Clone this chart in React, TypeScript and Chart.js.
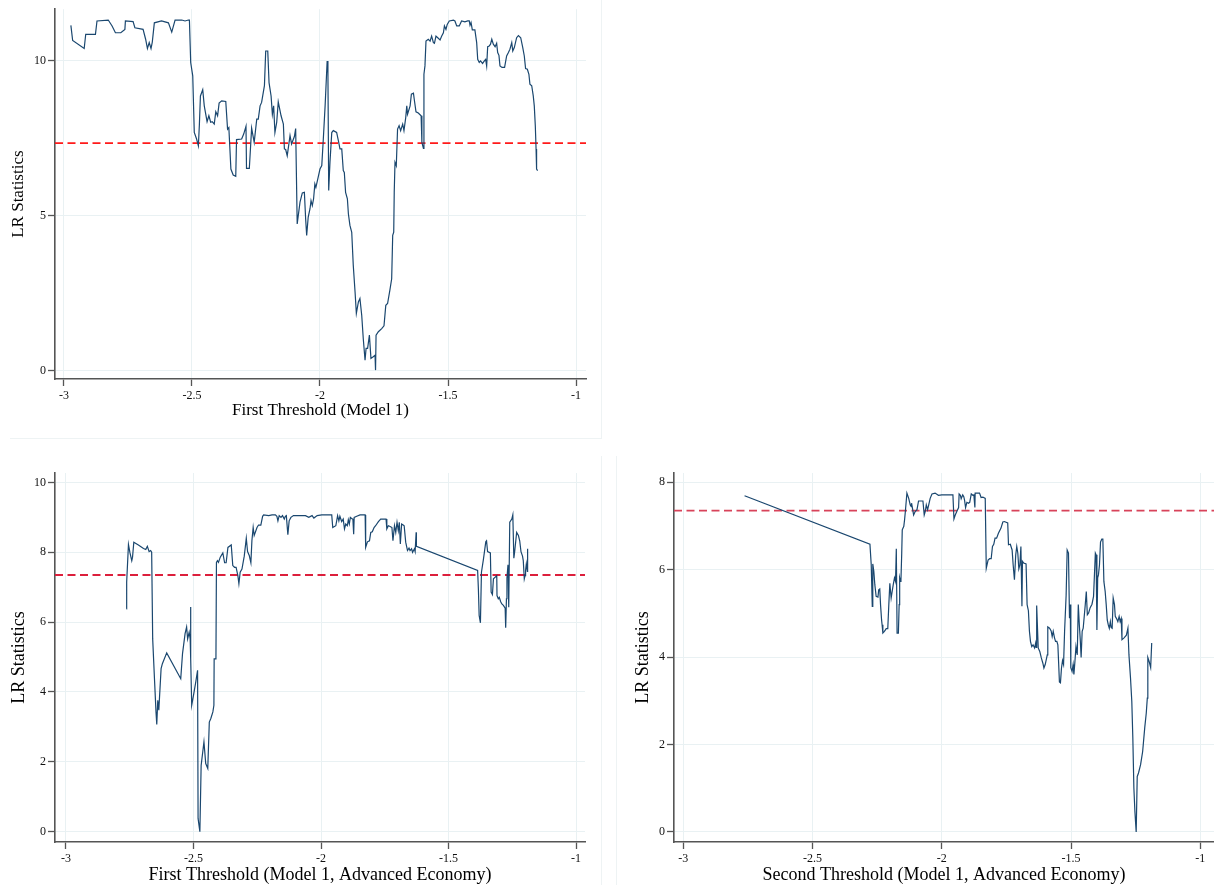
import React, { useEffect, useRef } from "react";
import { Chart, registerables } from "chart.js";

Chart.register(...registerables);

const FONT = '"Liberation Serif", "Times New Roman", Times, serif';
const NAVY = "#1a476f";
const THRESHOLD = 7.35;

// ---------- Panel 1: First Threshold (Model 1) ----------
const m1X = [
  -2.973, -2.966, -2.921, -2.915, -2.877, -2.871, -2.827, -2.812, -2.799, -2.778,
  -2.762, -2.760, -2.730, -2.723, -2.691, -2.681, -2.674, -2.667, -2.660, -2.655,
  -2.647, -2.619, -2.592, -2.579, -2.566, -2.540, -2.527, -2.514, -2.510, -2.505,
  -2.497, -2.491, -2.482, -2.475, -2.471, -2.467, -2.458, -2.452, -2.441, -2.434,
  -2.427, -2.421, -2.413, -2.407, -2.400, -2.394, -2.384, -2.368, -2.361, -2.356,
  -2.348, -2.339, -2.329, -2.326, -2.306, -2.298, -2.289, -2.287, -2.276, -2.267,
  -2.257, -2.247, -2.241, -2.234, -2.228, -2.217, -2.212, -2.204, -2.199, -2.191,
  -2.186, -2.181, -2.176, -2.169, -2.163, -2.152, -2.143, -2.139, -2.134, -2.128,
  -2.117, -2.111, -2.100, -2.095, -2.089, -2.078, -2.069, -2.061, -2.056, -2.052,
  -2.046, -2.039, -2.035, -2.030, -2.025, -2.020, -2.016, -2.007, -2.000, -1.993,
  -1.987, -1.980, -1.972, -1.969, -1.966, -1.961, -1.954, -1.948, -1.935, -1.928,
  -1.922, -1.915, -1.909, -1.905, -1.900, -1.893, -1.889, -1.883, -1.876, -1.870,
  -1.863, -1.858, -1.850, -1.844, -1.837, -1.831, -1.824, -1.820, -1.814, -1.807,
  -1.801, -1.792, -1.785, -1.783, -1.781, -1.772, -1.759, -1.750, -1.743, -1.736,
  -1.727, -1.720, -1.716, -1.712, -1.710, -1.707, -1.702, -1.697, -1.691, -1.685,
  -1.677, -1.672, -1.665, -1.661, -1.658, -1.648, -1.643, -1.635, -1.632, -1.625,
  -1.616, -1.605, -1.602, -1.596, -1.594, -1.590, -1.586, -1.577, -1.570, -1.564,
  -1.557, -1.553, -1.547, -1.540, -1.531, -1.525, -1.518, -1.514, -1.508, -1.503,
  -1.495, -1.479, -1.473, -1.466, -1.456, -1.447, -1.434, -1.423, -1.417, -1.414,
  -1.410, -1.405, -1.395, -1.388, -1.384, -1.378, -1.373, -1.365, -1.358, -1.353,
  -1.349, -1.345, -1.339, -1.334, -1.329, -1.323, -1.316, -1.310, -1.306, -1.301,
  -1.297, -1.289, -1.279, -1.271, -1.264, -1.258, -1.251, -1.247, -1.241, -1.232,
  -1.225, -1.216, -1.208, -1.202, -1.197, -1.190, -1.184, -1.180, -1.173, -1.167,
  -1.163, -1.159, -1.156, -1.154, -1.150,
];
const m1Y = [
  11.15, 10.66, 10.40, 10.86, 10.86, 11.29, 11.32, 11.13, 10.91, 10.91,
  11.02, 11.29, 11.27, 11.07, 11.02, 10.70, 10.40, 10.59, 10.40, 10.61,
  11.23, 11.29, 11.23, 10.93, 11.32, 11.32, 11.29, 11.32, 11.32, 9.95,
  9.52, 7.69, 7.48, 7.26, 7.96, 8.87, 9.07, 8.55, 8.04, 8.23,
  8.02, 8.04, 7.96, 8.36, 8.23, 8.64, 8.71, 8.69, 7.80, 7.85,
  6.51, 6.32, 6.28, 7.46, 7.48, 7.64, 7.89, 6.53, 6.53, 7.83,
  7.37, 8.12, 8.12, 8.55, 8.66, 9.20, 10.32, 10.32, 9.30, 8.87,
  8.28, 8.55, 7.69, 8.02, 8.68, 8.23, 7.96, 7.16, 7.14, 6.94,
  7.59, 7.32, 7.56, 7.82, 4.74, 5.44, 5.74, 5.76, 4.90, 4.37,
  4.96, 5.23, 5.49, 5.33, 5.55, 6.03, 5.92, 6.25, 6.51, 6.62,
  7.48, 8.55, 10.00, 9.62, 5.82, 6.73, 7.69, 7.75, 7.69, 7.42,
  7.16, 7.16, 6.46, 6.40, 5.76, 5.55, 5.06, 4.69, 4.47, 3.40,
  2.54, 1.85, 2.22, 2.33, 1.79, 1.04, 0.34, 0.72, 0.72, 1.15,
  0.40, 0.45, 0.50, 0.02, 1.15, 1.26, 1.36, 1.45, 2.11, 2.17,
  2.60, 2.97, 4.37, 4.47, 5.76, 6.73, 6.62, 7.80, 7.91, 7.75,
  7.96, 7.75, 8.18, 8.55, 8.28, 8.55, 8.93, 8.96, 8.77, 8.36,
  8.32, 8.23, 7.37, 7.18, 9.57, 9.84, 10.64, 10.70, 10.64, 10.80,
  10.59, 10.57, 10.80, 10.75, 10.68, 10.80, 10.91, 11.13, 11.02, 11.18,
  11.29, 11.32, 11.29, 11.13, 11.13, 11.29, 11.26, 11.29, 11.29, 11.15,
  11.24, 11.00, 11.00, 10.59, 10.05, 9.95, 10.00, 9.92, 10.00, 10.05,
  9.84, 10.46, 10.48, 10.54, 10.70, 10.54, 10.46, 10.57, 10.27, 10.18,
  9.84, 9.79, 9.79, 10.16, 10.27, 10.38, 10.59, 10.32, 10.43, 10.75,
  10.82, 10.75, 10.43, 10.16, 9.75, 9.73, 9.57, 9.25, 9.20, 8.87,
  8.55, 7.91, 7.16, 6.51, 6.46,
];

// ---------- Panel 2: First Threshold (Model 1, Advanced Economy) ----------
const m2X = [
  -2.763, -2.762, -2.755, -2.749, -2.742, -2.739, -2.734, -2.716, -2.696, -2.687,
  -2.681, -2.674, -2.668, -2.664, -2.660, -2.653, -2.647, -2.644, -2.640, -2.636,
  -2.627, -2.622, -2.605, -2.550, -2.543, -2.533, -2.527, -2.523, -2.517, -2.513,
  -2.512, -2.510, -2.507, -2.500, -2.491, -2.484, -2.482, -2.475, -2.470, -2.459,
  -2.452, -2.444, -2.438, -2.432, -2.424, -2.420, -2.419, -2.412, -2.410, -2.406,
  -2.402, -2.395, -2.385, -2.378, -2.372, -2.365, -2.352, -2.346, -2.339, -2.333,
  -2.326, -2.322, -2.317, -2.310, -2.301, -2.293, -2.288, -2.281, -2.275, -2.271,
  -2.266, -2.262, -2.251, -2.245, -2.236, -2.229, -2.225, -2.205, -2.192, -2.179,
  -2.173, -2.169, -2.164, -2.157, -2.151, -2.144, -2.140, -2.136, -2.130, -2.125,
  -2.118, -2.108, -2.088, -2.061, -2.048, -2.035, -2.028, -2.015, -1.997, -1.958,
  -1.954, -1.942, -1.935, -1.930, -1.926, -1.919, -1.913, -1.908, -1.903, -1.897,
  -1.893, -1.889, -1.885, -1.880, -1.875, -1.872, -1.870, -1.860, -1.847, -1.827,
  -1.825, -1.818, -1.810, -1.805, -1.799, -1.792, -1.786, -1.775, -1.766, -1.745,
  -1.742, -1.736, -1.729, -1.722, -1.718, -1.712, -1.707, -1.702, -1.697, -1.693,
  -1.689, -1.684, -1.678, -1.674, -1.668, -1.661, -1.655, -1.651, -1.645, -1.641,
  -1.634, -1.631, -1.627, -1.626, -1.386, -1.383, -1.380, -1.375, -1.371, -1.363,
  -1.354, -1.351, -1.347, -1.336, -1.333, -1.328, -1.324, -1.317, -1.311, -1.310,
  -1.305, -1.301, -1.296, -1.291, -1.285, -1.278, -1.276, -1.273, -1.271, -1.267,
  -1.264, -1.260, -1.252, -1.248, -1.244, -1.241, -1.233, -1.226, -1.221, -1.216,
  -1.210, -1.207, -1.203, -1.200, -1.198, -1.195, -1.191, -1.190,
];
const m2Y = [
  6.38, 7.14, 8.22, 7.98, 7.76, 7.86, 8.29, 8.21, 8.11, 8.08,
  8.17, 8.02, 8.05, 8.00, 5.52, 4.38, 3.43, 3.07, 3.76, 3.48,
  4.67, 4.81, 5.12, 4.38, 5.10, 5.67, 5.86, 5.52, 5.71, 5.52,
  6.43, 4.95, 3.62, 3.90, 4.29, 4.62, 0.38, 0.00, 1.90, 2.57,
  1.95, 1.81, 3.14, 3.24, 3.43, 3.62, 4.95, 4.95, 7.71, 7.76,
  7.71, 7.86, 7.98, 7.70, 7.70, 8.14, 8.21, 7.62, 7.57, 7.57,
  7.33, 7.10, 7.43, 7.52, 7.89, 8.40, 8.02, 7.90, 7.70, 8.33,
  8.71, 8.48, 8.71, 8.78, 8.78, 9.03, 9.07, 9.05, 9.07, 9.07,
  9.03, 8.90, 9.05, 9.00, 9.05, 8.95, 9.03, 9.05, 8.50, 8.90,
  9.00, 9.05, 9.05, 9.05, 9.00, 9.05, 8.98, 9.05, 9.07, 9.07,
  8.71, 8.76, 9.05, 8.90, 9.03, 8.88, 8.95, 8.67, 8.81, 8.76,
  8.93, 8.81, 9.00, 8.97, 8.95, 8.52, 9.00, 9.03, 9.07, 9.07,
  8.14, 8.30, 8.33, 8.57, 8.59, 8.71, 8.76, 8.88, 8.95, 8.95,
  8.67, 8.76, 8.74, 8.71, 8.33, 8.76, 8.57, 8.86, 8.62, 8.86,
  8.24, 8.81, 8.78, 8.76, 8.29, 8.05, 8.12, 8.05, 8.10, 8.00,
  8.10, 8.02, 8.57, 8.17, 7.48, 6.95, 6.19, 5.98, 7.43, 7.81,
  8.30, 8.33, 8.02, 7.98, 6.86, 6.79, 7.24, 7.29, 7.33, 6.76,
  6.67, 6.71, 6.59, 6.52, 6.48, 6.40, 5.84, 6.67, 7.26, 7.64,
  6.43, 8.86, 8.95, 9.07, 7.83, 8.00, 8.57, 8.48, 8.33, 8.02,
  7.89, 7.76, 7.24, 7.33, 7.48, 7.67, 7.45, 8.10,
];

// ---------- Panel 3: Second Threshold (Model 1, Advanced Economy) ----------
const m3X = [
  -2.763, -2.278, -2.273, -2.269, -2.267, -2.263, -2.259, -2.254, -2.247, -2.244,
  -2.240, -2.237, -2.233, -2.231, -2.228, -2.222, -2.215, -2.209, -2.205, -2.201,
  -2.196, -2.192, -2.188, -2.183, -2.179, -2.176, -2.173, -2.168, -2.165, -2.163,
  -2.160, -2.158, -2.155, -2.153, -2.147, -2.144, -2.141, -2.135, -2.128, -2.122,
  -2.118, -2.117, -2.109, -2.103, -2.096, -2.090, -2.073, -2.068, -2.064, -2.060,
  -2.055, -2.050, -2.045, -2.038, -2.026, -2.013, -2.000, -1.974, -1.957, -1.953,
  -1.948, -1.942, -1.935, -1.933, -1.928, -1.925, -1.919, -1.915, -1.912, -1.908,
  -1.903, -1.897, -1.892, -1.886, -1.880, -1.876, -1.872, -1.871, -1.861, -1.854,
  -1.848, -1.841, -1.832, -1.828, -1.821, -1.815, -1.809, -1.804, -1.799, -1.794,
  -1.788, -1.781, -1.771, -1.764, -1.758, -1.745, -1.742, -1.735, -1.728, -1.724,
  -1.719, -1.714, -1.710, -1.706, -1.702, -1.698, -1.694, -1.690, -1.688, -1.683,
  -1.674, -1.670, -1.665, -1.661, -1.657, -1.652, -1.647, -1.641, -1.637, -1.635,
  -1.633, -1.627, -1.621, -1.615, -1.609, -1.605, -1.600, -1.592, -1.590, -1.583,
  -1.577, -1.573, -1.569, -1.564, -1.560, -1.555, -1.551, -1.548, -1.545, -1.541,
  -1.537, -1.533, -1.529, -1.525, -1.519, -1.515, -1.510, -1.506, -1.503, -1.501,
  -1.496, -1.492, -1.489, -1.485, -1.481, -1.476, -1.472, -1.468, -1.464, -1.461,
  -1.457, -1.453, -1.445, -1.441, -1.437, -1.432, -1.426, -1.419, -1.413, -1.406,
  -1.403, -1.400, -1.397, -1.394, -1.390, -1.386, -1.381, -1.377, -1.373, -1.368,
  -1.364, -1.360, -1.356, -1.352, -1.348, -1.345, -1.341, -1.337, -1.332, -1.329,
  -1.324, -1.319, -1.314, -1.310, -1.306, -1.303, -1.295, -1.286, -1.280, -1.276,
  -1.270, -1.265, -1.261, -1.257, -1.253, -1.248, -1.244, -1.239, -1.231, -1.223,
  -1.215, -1.209, -1.205, -1.203, -1.198, -1.192, -1.188,
];
const m3Y = [
  7.69, 6.58, 6.11, 5.16, 6.13, 5.96, 5.65, 5.39, 5.37, 5.54,
  5.56, 5.20, 4.85, 4.74, 4.55, 4.59, 4.65, 4.65, 5.20, 5.69,
  5.35, 5.50, 5.65, 5.81, 5.73, 6.48, 4.55, 4.55, 5.20, 5.81,
  5.73, 5.77, 6.38, 6.91, 6.99, 7.14, 7.33, 7.75, 7.63, 7.48,
  7.44, 7.52, 7.25, 7.33, 7.37, 7.57, 7.57, 7.25, 7.33, 7.48,
  7.37, 7.50, 7.63, 7.73, 7.75, 7.70, 7.71, 7.71, 7.71, 7.16,
  7.25, 7.33, 7.42, 7.73, 7.70, 7.62, 7.71, 7.67, 7.59, 7.42,
  7.54, 7.52, 7.54, 7.73, 7.70, 7.71, 7.42, 7.75, 7.75, 7.75,
  7.65, 7.66, 7.63, 6.03, 6.22, 6.25, 6.25, 6.53, 6.58, 6.72,
  6.72, 6.83, 6.95, 7.09, 7.10, 7.07, 6.57, 6.58, 6.45, 6.11,
  5.77, 6.34, 6.53, 6.38, 6.02, 6.11, 6.53, 5.16, 6.19, 6.15,
  6.13, 5.20, 5.06, 4.59, 4.36, 4.24, 4.28, 4.21, 4.32, 4.22,
  5.18, 4.21, 4.13, 3.98, 3.86, 3.75, 3.83, 4.05, 4.69, 4.66,
  4.60, 4.47, 4.59, 4.44, 4.36, 4.36, 4.28, 3.86, 3.43, 3.41,
  3.75, 3.92, 3.83, 4.59, 5.42, 6.45, 6.38, 4.89, 5.20, 3.76,
  3.67, 3.83, 3.60, 3.90, 4.24, 4.05, 5.20, 4.74, 4.36, 3.99,
  4.59, 4.66, 5.20, 5.50, 4.97, 5.01, 5.13, 5.21, 5.39, 6.38,
  6.34, 4.62, 5.81, 5.88, 6.11, 6.63, 6.70, 6.70, 5.73, 5.50,
  5.20, 4.85, 4.74, 4.66, 4.81, 4.68, 4.66, 5.35, 5.20, 4.93,
  4.88, 4.81, 4.93, 4.81, 4.88, 4.40, 4.44, 4.50, 4.66, 4.05,
  3.52, 2.99, 2.15, 1.01, 0.47, 0.00, 1.27, 1.35, 1.54, 1.84,
  2.38, 2.72, 3.06, 3.99, 3.90, 3.76, 4.32,
];

// ---------- Tick labels ----------
const xTickValues = [-3, -2.5, -2, -1.5, -1];
const y1TickValues = [0, 5, 10];
const y2TickValues = [0, 2, 4, 6, 8, 10];
const y3TickValues = [0, 2, 4, 6, 8];

const axisTitlesPlugin = {
  id: "axisTitles",
  afterDraw(chart: any, _args: any, opts: any) {
    const { ctx, chartArea } = chart;
    ctx.save();
    ctx.fillStyle = "#000";
    ctx.font = `${opts.size}px ${FONT}`;
    ctx.textAlign = "center";
    ctx.textBaseline = "middle";
    ctx.fillText(opts.xTitle, (chartArea.left + chartArea.right) / 2, chartArea.bottom + opts.xOff);
    ctx.translate(chartArea.left - opts.yOff, (chartArea.top + chartArea.bottom) / 2);
    ctx.rotate(-Math.PI / 2);
    ctx.fillText(opts.yTitle, 0, 0);
    ctx.restore();
  },
};

type PanelProps = {
  xs: number[];
  ys: number[];
  yTicks: number[];
  xMin: number;
  xMax: number;
  yMin: number;
  yMax: number;
  xTitle: string;
  yTitle: string;
  left: number;
  top: number;
  width: number;
  height: number;
  padTop: number;
  padRight: number;
  yAxisWidth: number;
  xAxisHeight: number;
  titleSize: number;
  tickSize: number;
  xTickPad: number;
  xTitleOff: number;
  yTitleOff: number;
  dashColor: string;
};

function Panel(p: PanelProps) {
  const ref = useRef<HTMLCanvasElement | null>(null);
  useEffect(() => {
    if (!ref.current) return;
    const points = p.xs.map((x, i) => ({ x, y: p.ys[i] }));
    const chart = new Chart(ref.current, {
      type: "line",
      data: {
        datasets: [
          {
            data: points,
            borderColor: NAVY,
            borderWidth: 1.2,
            pointRadius: 0,
            tension: 0,
            fill: false,
          },
          {
            data: [
              { x: p.xMin, y: THRESHOLD },
              { x: p.xMax, y: THRESHOLD },
            ],
            borderColor: p.dashColor,
            borderWidth: 1.8,
            borderDash: [8, 4.5],
            pointRadius: 0,
            tension: 0,
            fill: false,
          },
        ],
      },
      options: {
        animation: false,
        responsive: false,
        devicePixelRatio: 1,
        layout: { padding: { left: 0, top: p.padTop, right: p.padRight, bottom: 0 } },
        plugins: {
          legend: { display: false },
          tooltip: { enabled: false },
          axisTitles: {
            xTitle: p.xTitle,
            yTitle: p.yTitle,
            size: p.titleSize,
            xOff: p.xTitleOff,
            yOff: p.yTitleOff,
          },
        } as any,
        scales: {
          x: {
            type: "linear",
            min: p.xMin,
            max: p.xMax,
            afterBuildTicks: (s: any) => {
              s.ticks = xTickValues.map((v) => ({ value: v }));
            },
            afterFit: (s: any) => {
              s.height = p.xAxisHeight;
            },
            ticks: {
              autoSkip: false,
              maxRotation: 0,
              padding: p.xTickPad,
              color: "#111",
              font: { family: FONT, size: p.tickSize },
              callback: (v: any) => String(v),
            },
            grid: {
              color: "#e9f1f3",
              lineWidth: 1,
              tickColor: "#555",
              tickLength: 7,
              tickWidth: 1.3,
            },
            border: { display: true, color: "#555", width: 1.6 },
          },
          y: {
            type: "linear",
            min: p.yMin,
            max: p.yMax,
            afterBuildTicks: (s: any) => {
              s.ticks = p.yTicks.map((v) => ({ value: v }));
            },
            afterFit: (s: any) => {
              s.width = p.yAxisWidth;
            },
            ticks: {
              autoSkip: false,
              padding: 2,
              color: "#111",
              font: { family: FONT, size: p.tickSize },
              callback: (v: any) => String(v),
            },
            grid: {
              color: "#e9f1f3",
              lineWidth: 1,
              tickColor: "#555",
              tickLength: 7,
              tickWidth: 1.3,
            },
            border: { display: true, color: "#555", width: 1.6 },
          },
        },
      },
      plugins: [axisTitlesPlugin as any],
    });
    return () => chart.destroy();
  }, []);
  return (
    <canvas
      ref={ref}
      width={p.width}
      height={p.height}
      style={{ position: "absolute", left: p.left, top: p.top, width: p.width, height: p.height }}
    />
  );
}

const faint = "#eef3f4";

export default function App() {
  return (
    <div
      style={{
        position: "absolute",
        left: 0,
        top: 0,
        width: 1214,
        height: 885,
        background: "#fff",
        overflow: "hidden",
      }}
    >
      <div style={{ position: "absolute", left: 10, top: 438, width: 592, height: 1, background: faint }} />
      <div style={{ position: "absolute", left: 601, top: 0, width: 1, height: 438, background: faint }} />
      <div style={{ position: "absolute", left: 601, top: 456, width: 1, height: 429, background: faint }} />
      <div style={{ position: "absolute", left: 616, top: 456, width: 1, height: 429, background: faint }} />
      <Panel
        xs={m1X}
        ys={m1Y}
        yTicks={y1TickValues}
        xMin={-3.035}
        xMax={-0.961}
        yMin={-0.267}
        yMax={11.67}
        xTitle="First Threshold (Model 1)"
        yTitle="LR Statistics"
        left={0}
        top={0}
        width={600}
        height={432}
        padTop={8}
        padRight={14}
        yAxisWidth={55}
        xAxisHeight={53}
        titleSize={17}
        tickSize={12}
        xTickPad={3}
        xTitleOff={32}
        yTitleOff={36}
        dashColor="#ff1a1a"
      />
      <Panel
        xs={m2X}
        ys={m2Y}
        yTicks={y2TickValues}
        xMin={-3.043}
        xMax={-0.965}
        yMin={-0.295}
        yMax={10.27}
        xTitle="First Threshold (Model 1, Advanced Economy)"
        yTitle="LR Statistics"
        left={0}
        top={445}
        width={605}
        height={440}
        padTop={28}
        padRight={20}
        yAxisWidth={55}
        xAxisHeight={43}
        titleSize={18}
        tickSize={12}
        xTickPad={3}
        xTitleOff={33}
        yTitleOff={36}
        dashColor="#dc1f3c"
      />
      <Panel
        xs={m3X}
        ys={m3Y}
        yTicks={y3TickValues}
        xMin={-3.036}
        xMax={-0.947}
        yMin={-0.229}
        yMax={8.21}
        xTitle="Second Threshold (Model 1, Advanced Economy)"
        yTitle="LR Statistics"
        left={620}
        top={445}
        width={594}
        height={440}
        padTop={28}
        padRight={0}
        yAxisWidth={54}
        xAxisHeight={43}
        titleSize={18}
        tickSize={12}
        xTickPad={3}
        xTitleOff={33}
        yTitleOff={31}
        dashColor="#d8435a"
      />
    </div>
  );
}
